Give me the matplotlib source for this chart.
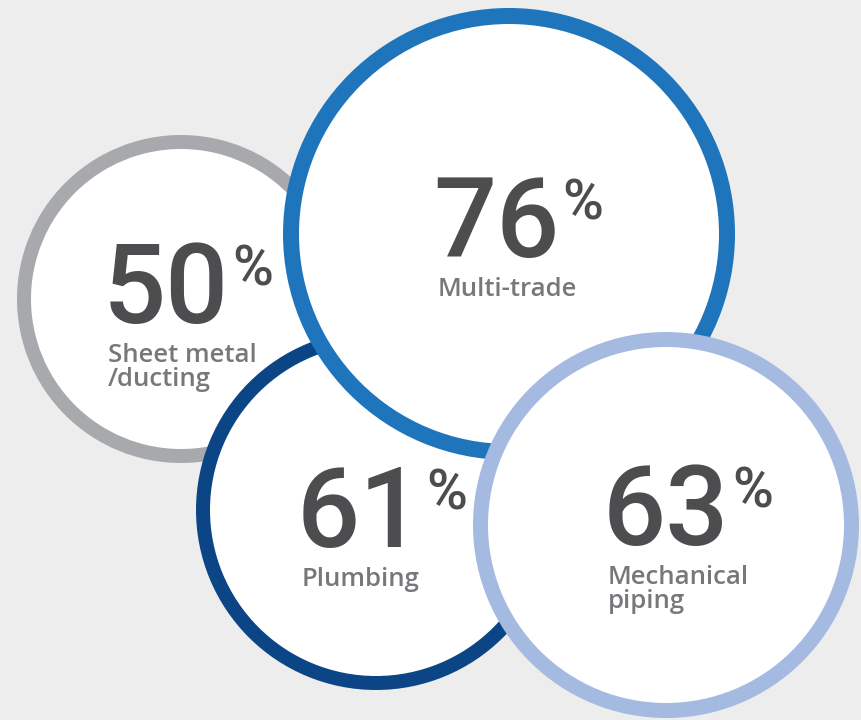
import matplotlib.pyplot as plt
from matplotlib.patches import Circle

# Values shown in the chart
trades = ['Sheet metal\n/ducting', 'Plumbing', 'Multi-trade', 'Mechanical\npiping']
shares = [50, 61, 76, 63]

# Layout of each bubble (pixel coords, y downward): centre, outer radius, ring width
centres = [(181, 299), (376, 510), (509, 234), (666, 525)]
radii = [164, 180, 226, 193]
ring_px = [14, 14, 16, 15]
ring_colors = ['#a7a9ac', '#0b4586', '#1f75bc', '#a4bae0']
# where the big number starts (left, baseline)
num_pos = [(107, 323), (301, 547), (437, 257), (607, 545)]

W, H, DPI = 861, 720, 100
fig = plt.figure(figsize=(W / DPI, H / DPI), dpi=DPI)
fig.patch.set_facecolor('#ededed')
ax = fig.add_axes([0, 0, 1, 1])
ax.set_xlim(0, W)
ax.set_ylim(H, 0)
ax.set_aspect('equal')
ax.axis('off')

num_color = '#4d4d4f'
lab_color = '#77787b'

for i in range(len(trades)):
    lw_px = ring_px[i]
    c = Circle(centres[i], radii[i] - lw_px / 2, facecolor='white',
               edgecolor=ring_colors[i], linewidth=lw_px * 72 / DPI, zorder=i * 2)
    ax.add_patch(c)

    x, y = num_pos[i]
    t = ax.text(x - 4, y, str(shares[i]), fontsize=80, family='Roboto', fontweight='medium',
                color=num_color, ha='left', va='baseline', zorder=i * 2 + 1)
    fig.canvas.draw()
    bb = t.get_window_extent().transformed(ax.transData.inverted())
    ax.text(bb.x1 + 3, y - 37, '%', fontsize=40, family='Roboto', fontweight='medium',
            color=num_color, ha='left', va='baseline', zorder=i * 2 + 1)
    for k, line in enumerate(trades[i].split('\n')):
        ax.text(x + 1, y + 39 + k * 24, line, fontsize=18.5, family='Open Sans',
                fontweight='semibold', color=lab_color, ha='left', va='baseline',
                zorder=i * 2 + 1)

fig.savefig('out.png', dpi=DPI, facecolor=fig.get_facecolor())
